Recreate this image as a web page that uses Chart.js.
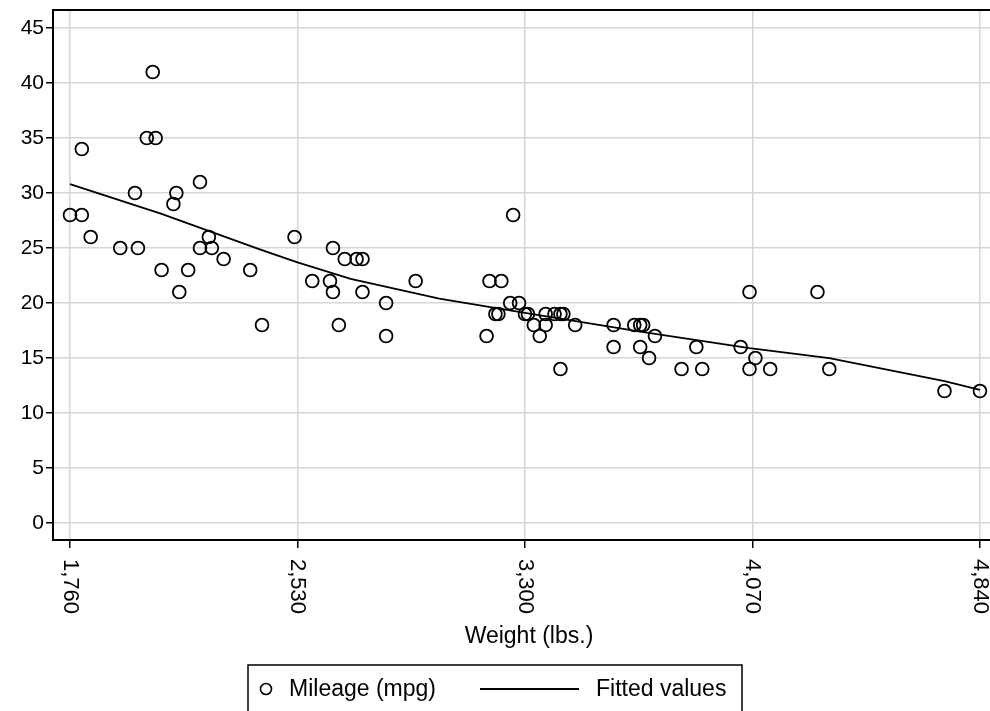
<!DOCTYPE html>
<html>
<head>
<meta charset="utf-8">
<title>Mileage vs weight</title>
<script src="https://cdn.jsdelivr.net/npm/chart.js@4"></script>
<style>
  html, body { margin: 0; padding: 0; background: #fff; }
  #wrap { width: 990px; height: 711px; position: relative; }
</style>
</head>
<body>
<div id="wrap"><canvas id="chart"></canvas></div>
<script>
// Values
const weightLbs = [1760, 1800, 1800, 1830, 1930, 1980, 1990, 2020, 2040, 2050,
    2070, 2110, 2120, 2130, 2160, 2200, 2200, 2230, 2240, 2280,
    2370, 2410, 2520, 2580, 2640, 2650, 2650, 2670, 2690, 2730,
    2750, 2750, 2830, 2830, 2930, 3170, 3180, 3200, 3210, 3220,
    3250, 3260, 3280, 3300, 3310, 3330, 3350, 3370, 3370, 3400,
    3420, 3420, 3430, 3470, 3600, 3600, 3670, 3690, 3690, 3700,
    3720, 3740, 3830, 3880, 3900, 4030, 4060, 4060, 4080, 4130,
    4290, 4330, 4720, 4840];
const mileageMpg = [28, 34, 28, 26, 25, 30, 25, 35, 41, 35,
    23, 29, 30, 21, 23, 31, 25, 26, 25, 24,
    23, 18, 26, 22, 22, 25, 21, 18, 24, 24,
    24, 21, 20, 17, 22, 17, 22, 19, 19, 22,
    20, 28, 20, 19, 19, 18, 17, 18, 19, 19,
    19, 14, 19, 18, 18, 16, 18, 16, 18, 18,
    15, 17, 14, 16, 14, 16, 14, 21, 15, 14,
    21, 14, 12, 12];

// fitted line, read at a few weights along the curve
const fitWeight = [1760, 2070, 2400, 2530, 2710, 3010, 3300, 3690, 4060, 4330, 4720, 4840];
const fitMpg = [30.8, 28.1, 24.9, 23.7, 22.2, 20.4, 19.1, 17.4, 15.9, 15.0, 12.9, 12.1];

const xTicks = [1760, 2530, 3300, 4070, 4840];
const yTicks = [0, 5, 10, 15, 20, 25, 30, 35, 40, 45];

const FONT = '"Liberation Sans", Arial, Helvetica, sans-serif';

function fmt(v) {
    return v.toLocaleString('en-US');
}

// draws top frame, rotated x labels, x title and the boxed legend
const stataBits = {
    id: 'stataBits',
    afterDraw(chart) {
        const ctx = chart.ctx;
        const area = chart.chartArea;
        const xs = chart.scales.x;
        ctx.save();

        // top frame line
        ctx.strokeStyle = '#000';
        ctx.lineWidth = 2;
        ctx.beginPath();
        ctx.moveTo(area.left, area.top);
        ctx.lineTo(area.right, area.top);
        ctx.stroke();

        // x tick labels, rotated to read downwards
        ctx.fillStyle = '#000';
        ctx.font = '22px ' + FONT;
        ctx.textAlign = 'left';
        ctx.textBaseline = 'middle';
        xTicks.forEach(t => {
            const px = xs.getPixelForValue(t);
            ctx.save();
            ctx.translate(px, area.bottom + 19);
            ctx.rotate(Math.PI / 2);
            ctx.fillText(fmt(t), 0, 0);
            ctx.restore();
        });

        // axis title
        ctx.font = '23px ' + FONT;
        ctx.textAlign = 'center';
        ctx.fillText('Weight (lbs.)', xs.getPixelForValue(3300) + 4, 637);

        // legend box
        ctx.lineWidth = 1.5;
        ctx.strokeRect(248, 665, 494, 60);
        ctx.beginPath();
        ctx.arc(266, 689, 5.5, 0, Math.PI * 2);
        ctx.lineWidth = 1.6;
        ctx.stroke();
        ctx.textAlign = 'left';
        ctx.fillText('Mileage (mpg)', 289, 690);
        ctx.beginPath();
        ctx.moveTo(480, 689);
        ctx.lineTo(579, 689);
        ctx.lineWidth = 1.8;
        ctx.stroke();
        ctx.fillText('Fitted values', 596, 690);

        ctx.restore();
    }
};

const ctx = document.getElementById('chart').getContext('2d');
const chart = new Chart(ctx, {
    type: 'scatter',
    data: {
        datasets: [
            {
                type: 'line',
                label: 'Fitted values',
                data: fitWeight.map((w, i) => ({ x: w, y: fitMpg[i] })),
                borderColor: '#000',
                borderWidth: 1.8,
                pointRadius: 0,
                tension: 0,
                fill: false
            },
            {
                label: 'Mileage (mpg)',
                data: weightLbs.map((w, i) => ({ x: w, y: mileageMpg[i] })),
                borderColor: '#000',
                backgroundColor: 'rgba(0,0,0,0)',
                borderWidth: 1.8,
                pointRadius: 6.4,
                pointHoverRadius: 6.4
            }
        ]
    },
    options: {
        responsive: true,
        maintainAspectRatio: false,
        animation: false,
        layout: { autoPadding: false, padding: { top: 10, right: 0, left: 0, bottom: 0 } },
        plugins: {
            legend: { display: false },
            tooltip: { enabled: false }
        },
        scales: {
            x: {
                type: 'linear',
                min: 1702.5,
                max: 4874,
                afterBuildTicks: s => { s.ticks = xTicks.map(v => ({ value: v })); },
                afterFit: s => { s.height = 171; },
                ticks: { display: false },
                grid: {
                    color: '#d6d6d6',
                    lineWidth: 1.5,
                    drawTicks: true,
                    tickLength: 8,
                    tickColor: '#000',
                    tickWidth: 1.5
                },
                border: { color: '#000', width: 2 }
            },
            y: {
                type: 'linear',
                min: -1.545,
                max: 46.64,
                afterBuildTicks: s => { s.ticks = yTicks.map(v => ({ value: v })); },
                afterFit: s => {
                    s.width = 53;
                    s.paddingTop = 0;
                    s.paddingBottom = 0;
                },
                ticks: {
                    color: '#000',
                    padding: 2,
                    font: { family: FONT, size: 21 }
                },
                grid: {
                    color: '#d6d6d6',
                    lineWidth: 1.5,
                    drawTicks: true,
                    tickLength: 7,
                    tickColor: '#000',
                    tickWidth: 1.5
                },
                border: { color: '#000', width: 2 }
            }
        }
    },
    plugins: [stataBits]
});
</script>
</body>
</html>
